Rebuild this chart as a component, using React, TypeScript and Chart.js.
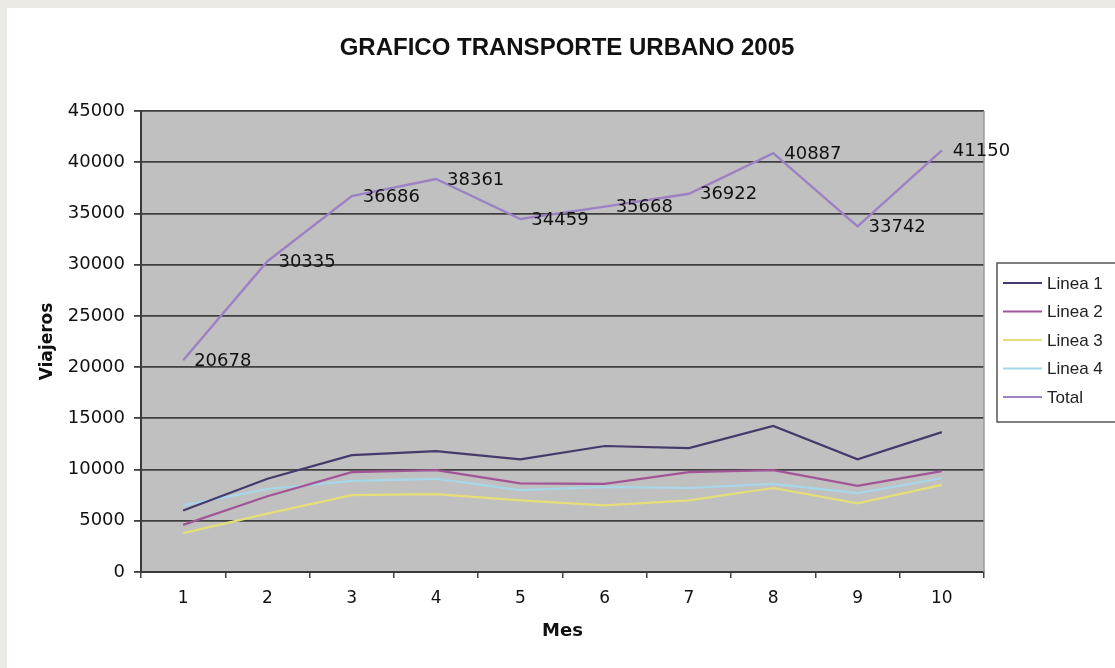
import React, { useEffect, useRef } from "react";
import { Chart, registerables } from "chart.js";

Chart.register(...registerables);

const TITLE = "GRAFICO TRANSPORTE URBANO 2005";
const X_TITLE = "Mes";
const Y_TITLE = "Viajeros";
const categories = ["1", "2", "3", "4", "5", "6", "7", "8", "9", "10"];
const seriesNames = ["Linea 1", "Linea 2", "Linea 3", "Linea 4", "Total"];
const linea1 = [6000, 9100, 11400, 11800, 11000, 12300, 12100, 14250, 11000, 13650];
const linea2 = [4600, 7400, 9750, 9950, 8650, 8600, 9750, 9950, 8400, 9850];
const linea3 = [3800, 5700, 7500, 7600, 7000, 6500, 7000, 8200, 6700, 8500];
const linea4 = [6500, 8100, 8900, 9100, 8000, 8300, 8200, 8600, 7700, 9150];
const total = [20678, 30335, 36686, 38361, 34459, 35668, 36922, 40887, 33742, 41150];
const seriesColors = ["#463a6c", "#a25596", "#e6de78", "#a6d7e8", "#9c82c4"];
const yMin = 0;
const yMax = 45000;
const yStep = 5000;

const framePlugin = {
  id: "frame",
  beforeDraw(chart: any) {
    const { ctx, chartArea } = chart;
    ctx.save();
    ctx.fillStyle = "#ebeae5";
    ctx.fillRect(0, 0, chart.width, chart.height);
    ctx.fillStyle = "#ffffff";
    ctx.fillRect(7, 8, chart.width - 7, chart.height - 8);
    ctx.fillStyle = "#c0c0c0";
    ctx.fillRect(chartArea.left, chartArea.top, chartArea.right - chartArea.left, chartArea.bottom - chartArea.top);
    ctx.restore();
  },
  beforeDatasetsDraw(chart: any) {
    const { ctx, chartArea } = chart;
    ctx.save();
    ctx.strokeStyle = "#9a9a9a";
    ctx.lineWidth = 1.5;
    ctx.beginPath();
    ctx.moveTo(chartArea.right, chartArea.top);
    ctx.lineTo(chartArea.right, chartArea.bottom);
    ctx.stroke();
    ctx.restore();
  },
  afterDraw(chart: any) {
    const { ctx } = chart;
    ctx.save();
    // title
    ctx.fillStyle = "#111";
    ctx.font = "bold 24px 'Liberation Sans', Arial, sans-serif";
    ctx.textAlign = "center";
    ctx.textBaseline = "middle";
    ctx.fillText(TITLE, 567, 48);
    // legend
    const bx = 997, by = 263, bw = 125, bh = 159;
    ctx.fillStyle = "#ffffff";
    ctx.fillRect(bx, by, bw, bh);
    ctx.strokeStyle = "#555";
    ctx.lineWidth = 1.5;
    ctx.strokeRect(bx, by, bw, bh);
    ctx.font = "17px 'Liberation Sans', Arial, sans-serif";
    ctx.textAlign = "left";
    chart.data.datasets.forEach((ds: any, i: number) => {
      const y = 283 + i * 28.5;
      ctx.strokeStyle = ds.borderColor;
      ctx.lineWidth = 2;
      ctx.beginPath();
      ctx.moveTo(1003, y);
      ctx.lineTo(1042, y);
      ctx.stroke();
      ctx.fillStyle = "#222";
      ctx.fillText(ds.label, 1047, y + 1);
    });
    ctx.restore();
  },
  afterDatasetsDraw(chart: any) {
    const { ctx } = chart;
    const idx = chart.data.datasets.length - 1;
    const meta = chart.getDatasetMeta(idx);
    const values = chart.data.datasets[idx].data;
    ctx.save();
    ctx.fillStyle = "#111";
    ctx.font = "18px 'DejaVu Sans', sans-serif";
    ctx.textAlign = "left";
    ctx.textBaseline = "middle";
    meta.data.forEach((pt: any, i: number) => {
      ctx.fillText(String(values[i]), pt.x + 11, pt.y + 1);
    });
    ctx.restore();
  },
};

export default function App() {
  const ref = useRef<HTMLCanvasElement>(null);
  useEffect(() => {
    if (!ref.current) return;
    const dataSeries = [linea1, linea2, linea3, linea4, total];
    const chart = new Chart(ref.current, {
      type: "line",
      data: {
        labels: categories,
        datasets: dataSeries.map((d, i) => ({
          label: seriesNames[i],
          data: d,
          borderColor: seriesColors[i],
          backgroundColor: seriesColors[i],
          borderWidth: i === 4 ? 2.4 : 2.2,
          pointRadius: 0,
          tension: 0,
          fill: false,
        })),
      },
      options: {
        responsive: false,
        animation: false,
        devicePixelRatio: 1,
        layout: { padding: { left: 20, top: 111, right: 131, bottom: 6 } },
        plugins: {
          legend: { display: false },
          title: { display: false },
          tooltip: { enabled: false },
        },
        scales: {
          x: {
            type: "category",
            offset: true,
            afterFit: (s: any) => { s.height = 90; },
            grid: {
              offset: true,
              drawOnChartArea: false,
              drawTicks: true,
              tickLength: 6,
              color: "#444",
              lineWidth: 1.5,
            },
            border: { display: true, color: "#3a3a3a", width: 2 },
            ticks: {
              color: "#111",
              padding: 10,
              maxRotation: 0,
              font: { family: "'DejaVu Sans', sans-serif", size: 17 },
            },
            title: {
              display: true,
              text: X_TITLE,
              color: "#111",
              padding: { top: 0, bottom: 20 },
              font: { family: "'DejaVu Sans', sans-serif", size: 18, weight: "bold" },
            },
          },
          y: {
            min: yMin,
            max: yMax,
            afterFit: (s: any) => { s.width = 121; },
            grid: {
              drawOnChartArea: true,
              drawTicks: true,
              tickLength: 7,
              color: "#3f3f3f",
              lineWidth: 1.8,
            },
            border: { display: true, color: "#3a3a3a", width: 2 },
            ticks: {
              stepSize: yStep,
              color: "#111",
              padding: 9,
              font: { family: "'DejaVu Sans', sans-serif", size: 18 },
              callback: (v: any) => String(v),
            },
            title: {
              display: true,
              text: Y_TITLE,
              color: "#111",
              padding: { top: 17, bottom: 0 },
              font: { family: "'DejaVu Sans', sans-serif", size: 17, weight: "bold" },
            },
          },
        },
      },
      plugins: [framePlugin],
    } as any);
    return () => chart.destroy();
  }, []);
  return (
    <div style={{ position: "fixed", left: 0, top: 0, width: 1115, height: 668 }}>
      <canvas ref={ref} width={1115} height={668} style={{ display: "block" }} />
    </div>
  );
}
